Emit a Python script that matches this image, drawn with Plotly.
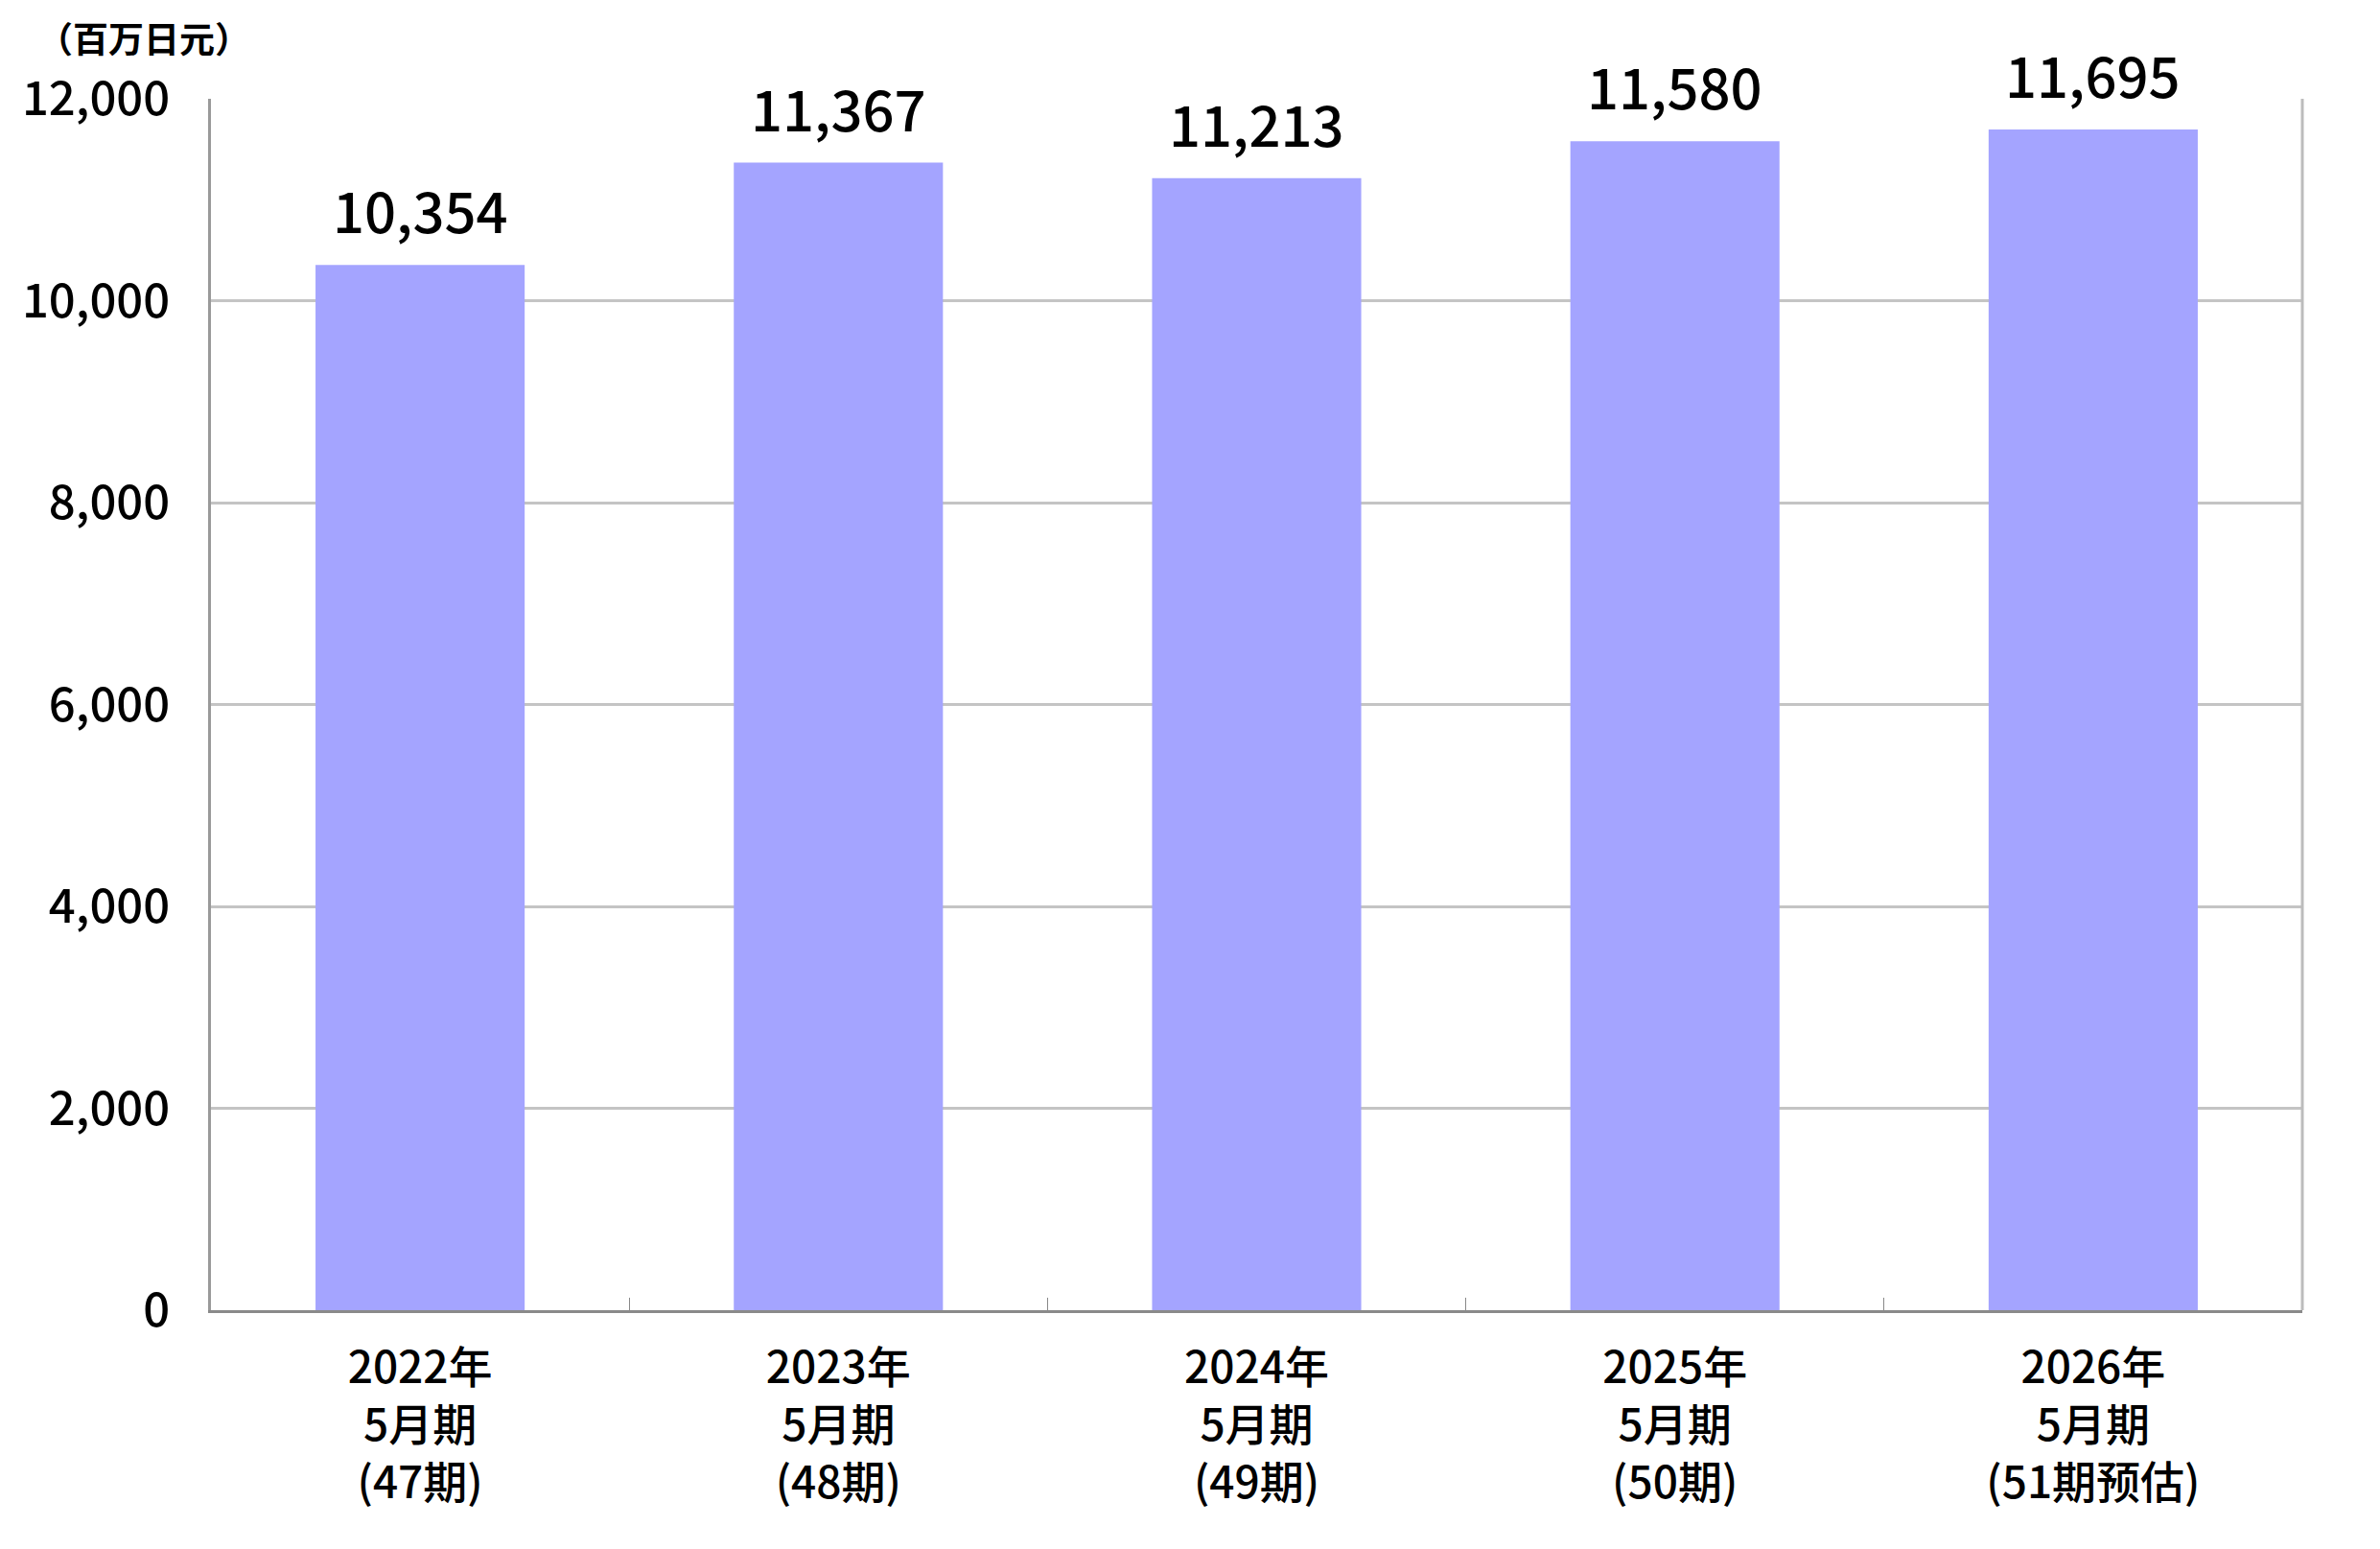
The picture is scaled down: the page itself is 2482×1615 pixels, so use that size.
import plotly.graph_objects as go

categories = ["2022年<br>5月期<br>(47期)", "2023年<br>5月期<br>(48期)", "2024年<br>5月期<br>(49期)",
              "2025年<br>5月期<br>(50期)", "2026年<br>5月期<br>(51期预估)"]
values = [10354, 11367, 11213, 11580, 11695]
y_ticks = [0, 2000, 4000, 6000, 8000, 10000, 12000]
unit_label = "（百万日元）"

FONT = "Noto Sans CJK JP"

fig = go.Figure()
fig.add_trace(go.Bar(
    x=categories, y=values,
    marker=dict(color="#a4a4ff", line=dict(width=0)),
    width=0.5,
))

annotations = [dict(
    x=c, y=v, xref="x", yref="y", text=f"{v:,}", showarrow=False,
    xanchor="center", yanchor="bottom", yshift=14,
    font=dict(family=FONT, size=58, color="#000000", weight=500),
) for c, v in zip(categories, values)]
annotations.append(dict(
    text=unit_label, xref="paper", yref="paper", x=-0.032, y=1.074,
    xanchor="center", yanchor="top", showarrow=False,
    font=dict(family=FONT, size=37, color="#000000", weight="bold"),
))

fig.update_layout(
    width=2482, height=1615,
    margin=dict(l=212, r=89, t=95, b=257),
    paper_bgcolor="white", plot_bgcolor="white",
    showlegend=False,
    font=dict(family=FONT, color="#000000"),
    annotations=annotations,
    shapes=[dict(type="line", xref="paper", yref="paper", x0=1, x1=1, y0=0, y1=1,
                 line=dict(color="#bcbcbc", width=3))],
)

fig.update_xaxes(
    type="category",
    tickson="boundaries",
    ticks="inside", ticklen=13, tickcolor="#888888", tickwidth=1,
    showline=True, linecolor="#8a8a8a", linewidth=3,
    showgrid=False,
    tickfont=dict(family=FONT, size=46, color="#000000", weight=500),
    ticklabelstandoff=18,
)
fig.update_yaxes(
    range=[0, 12000],
    tickvals=y_ticks, ticktext=[f"{v:,}" for v in y_ticks],
    showline=True, linecolor="#9a9a9a", linewidth=3,
    showgrid=True, gridcolor="#c4c4c4", gridwidth=3,
    zeroline=False,
    ticks="",
    tickfont=dict(family=FONT, size=49, color="#000000", weight=500),
    ticklabelstandoff=30,
)

fig.write_html("out.html")
